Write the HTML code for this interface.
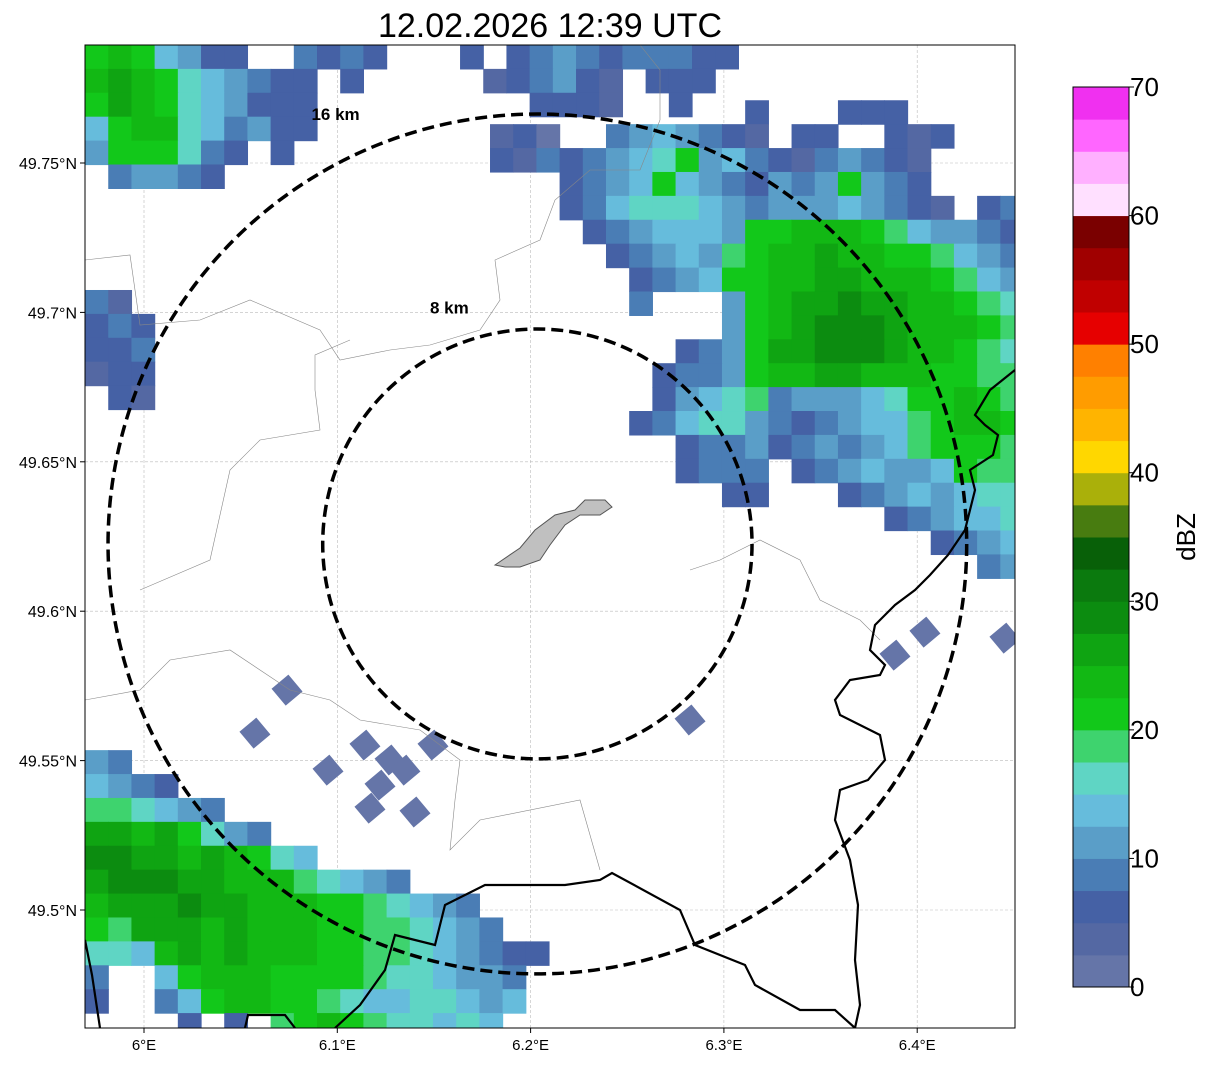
<!DOCTYPE html>
<html><head><meta charset="utf-8"><style>
body{margin:0;background:#fff;}
svg text{font-family:"Liberation Sans",sans-serif;}
</style></head><body>
<svg id="c" width="1207" height="1064" xmlns="http://www.w3.org/2000/svg">
<text x="550" y="37" font-size="34" text-anchor="middle">12.02.2026 12:39 UTC</text>
<defs><clipPath id="pc"><rect x="85" y="45" width="930" height="983"/></clipPath></defs>
<g id="grid"></g>
<g id="radar" clip-path="url(#pc)"></g>
<g id="map" clip-path="url(#pc)"></g>
<rect x="85" y="45" width="930" height="983" fill="none" stroke="#000" stroke-width="1"/>
<g id="axes"></g>
<g id="cbar"></g>
</svg>
<script>
const NS="http://www.w3.org/2000/svg";
const colorLevels=["#6575a8","#5468a3","#4561a5","#4a7db5","#5a9ec8","#66bcdc","#5fd5c4","#3ed36e","#12c81a","#12b814","#0fa412","#0c8c10","#0b7a0e","#086008","#487c10","#aab00a","#ffd700","#ffb400","#ff9c00","#ff8000","#e60000","#c00000","#a00000","#7a0000","#ffe0ff","#ffb0ff","#ff66ff","#f030f0"];
const lonTicks=[6.0,6.1,6.2,6.3,6.4];
const latTicks=[49.5,49.55,49.6,49.65,49.7,49.75];
const cbarTicks=[0,10,20,30,40,50,60,70];
const rangeRings=[8,16];
const radarCenter=[6.2035,49.6225];
// clusters: [lon0, lat0, dlon, dlat, rows] ; chars = level index (dBZ = idx*2.5)
const clusterNE=[6.179,49.771,0.012,0.008,[
"...........2...222.....",
"120..3454321.22..212...",
"2132345684532134321....",
"...2345854324348432....",
"...23566654344454321.23",
"....2345554889998754432",
".....234547899a99887543",
"......23458899aa9998754",
"......3...489aabaa99876",
"..........489abbba99987",
"........2348aabbba99876",
".......2334899aa9998877",
".......2456734445688987",
"......23566432345578998",
"........233423434578887",
"........2333.2345445877",
"..........22...23454566",
".................234556",
"...................2345",
".....................34"]];
const clusterNW=[5.9695,49.7895,0.012,0.008,[
"8985422..3232",
"9a98654322.2.",
"8a98654222...",
"5899653422...",
"4888632.2....",
".34432......."]];
const clusterTop=[6.1635,49.7895,0.012,0.008,[
"2.2343233322",
".123421.222.",
"...2221..2.."]];
const clusterWest=[5.9695,49.7075,0.012,0.008,[
"31.","232","223","122",".21"]];
const clusterSW=[5.9695,49.5535,0.012,0.008,[
"43..................",
"5432................",
"776543..............",
"aa9a8643............",
"bbaa9a9865..........",
"abbbaa99976543......",
"9aaabaa9998876543...",
"87aaa9a99988776543..",
"6659a9a9998877654322",
"3..5899988887665443.",
"2..3589988765566545.",
"....2.2.7898766565.."]];
const cellLon=[6.0574,6.074,6.0952,6.1143,6.1273,6.1221,6.135,6.1169,6.1402,6.1495,6.2825,6.404,6.3885,6.4454];
const cellLat=[49.5592,49.5736,49.5468,49.5552,49.5502,49.5418,49.5468,49.5341,49.5328,49.5552,49.5636,49.593,49.5853,49.591];
const cellDbz=[0,0,0,0,0,0,0,0,0,0,0,0,0,0];

const X0=85,X1=1015,Y0=45,Y1=1028;
const xS=lon=>144+(lon-6.0)*1933;
const yS=lat=>163-(lat-49.75)*2988;
const cS=d=>987-d*(900/70);
function el(t,a,p){const e=document.createElementNS(NS,t);for(const k in a)e.setAttribute(k,a[k]);(p||document.getElementById('c')).appendChild(e);return e;}
const G=id=>document.getElementById(id);
const colorOf=d=>colorLevels[Math.min(27,Math.max(0,Math.floor(d/2.5+1e-6)))];

lonTicks.forEach(v=>{const l=el('line',{x1:xS(v),x2:xS(v),y1:Y0,y2:Y1,stroke:'#bbb','stroke-width':0.6,'stroke-dasharray':'3,2'},G('grid'));
});
latTicks.forEach(v=>{const l=el('line',{x1:X0,x2:X1,y1:yS(v),y2:yS(v),stroke:'#bbb','stroke-width':0.6,'stroke-dasharray':'3,2'},G('grid'));
});

function drawCluster(cl,name){const [lon0,lat0,dl,dt,rows]=cl;
rows.forEach((r,ri)=>{for(let ci=0;ci<r.length;ci++){const ch=r[ci];if(ch==='.'||ch===' ')continue;
const idx=parseInt(ch,16);const dbz=idx*2.5;
const x=xS(lon0+ci*dl),y=yS(lat0-ri*dt),w=xS(lon0+(ci+1)*dl)-x+0.6,h=yS(lat0-(ri+1)*dt)-y+0.6;
const e=el('rect',{x:x,y:y,width:w,height:h,fill:colorOf(dbz)},G('radar'));
}});}
drawCluster(clusterNE,'ne');drawCluster(clusterNW,'nw');drawCluster(clusterTop,'top');drawCluster(clusterWest,'west');drawCluster(clusterSW,'sw');
cellLon.forEach((lo,i)=>{const x=xS(lo),y=yS(cellLat[i]);
const e=el('rect',{x:x-11,y:y-11,width:22,height:22,fill:colorOf(cellDbz[i]),transform:`rotate(-40 ${x} ${y})`},G('radar'));
});

const thin=[[85,260],[130,255],[140,325],[200,320],[250,300],[320,330],[340,360],[390,350],[430,345],[480,330],[500,300],[495,260],[540,240],[555,200],[590,170],[640,170],[660,120],[660,70],[640,45]];
el('polyline',{points:thin.map(p=>p.join(',')).join(' '),fill:'none',stroke:'#888','stroke-width':0.6},G('map'));
const thin2=[[85,700],[140,690],[170,660],[230,650],[290,690],[330,700],[360,720],[420,730],[460,760],[455,800],[450,850],[480,820],[580,800],[600,870]];
el('polyline',{points:thin2.map(p=>p.join(',')).join(' '),fill:'none',stroke:'#888','stroke-width':0.6},G('map'));
const thin3=[[140,590],[210,560],[230,470],[260,440],[320,430],[315,390],[315,355],[350,340]];
el('polyline',{points:thin3.map(p=>p.join(',')).join(' '),fill:'none',stroke:'#888','stroke-width':0.6},G('map'));
const thin4=[[690,570],[720,560],[760,540],[800,560],[820,600],[860,620],[880,640]];
el('polyline',{points:thin4.map(p=>p.join(',')).join(' '),fill:'none',stroke:'#888','stroke-width':0.6},G('map'));
const b1=[[1015,370],[990,390],[975,415],[985,425],[998,435],[993,455],[970,470],[975,490],[965,530],[948,555],[930,575],[915,590],[895,605],[875,625],[870,650],[885,665],[880,675],[850,680],[835,700],[840,715],[880,735],[885,760],[868,780],[840,790],[835,820],[850,860],[858,905],[855,960],[860,1005],[855,1028]];
const b2=[[335,1028],[360,1005],[385,970],[395,935],[435,945],[445,905],[485,885],[565,885],[600,880],[612,873],[680,910],[695,945],[745,965],[755,985],[800,1010],[835,1010],[855,1028]];
const b3=[[85,940],[92,975],[100,1028]];
const b4=[[245,1028],[248,1015],[285,1015],[295,1028]];
[b1,b2,b3,b4].forEach(b=>{const e=el('polyline',{points:b.map(p=>p.join(',')).join(' '),fill:'none',stroke:'#000','stroke-width':2.2},G('map'));
});
const city=[[495,565],[520,548],[535,530],[555,515],[575,510],[585,500],[605,500],[612,507],[600,515],[580,515],[565,525],[550,545],[540,560],[520,567],[505,567]];
el('polygon',{points:city.map(p=>p.join(',')).join(' '),fill:'#c0c0c0',stroke:'#555','stroke-width':1},G('map'));

const kmPerLat=111.2,kmPerLon=111.2*Math.cos(radarCenter[1]*Math.PI/180);
rangeRings.forEach(r=>{const cx=xS(radarCenter[0]),cy=yS(radarCenter[1]);
const rx=xS(radarCenter[0]+r/kmPerLon)-cx, ry=cy-yS(radarCenter[1]+r/kmPerLat);
const e=el('ellipse',{cx:cx,cy:cy,rx:rx,ry:ry,fill:'none',stroke:'#000','stroke-width':3.5,'stroke-dasharray':'12,6'},G('map'));

const fx=r<10?0.41:0.47, fy=r<10?1.1:1.0;
const t=el('text',{x:cx-rx*fx,y:cy-ry*fy+6,'font-size':17,'font-weight':'bold','text-anchor':'middle'},G('map'));t.textContent=r+' km';
});

lonTicks.forEach(v=>{const x=xS(v);el('line',{x1:x,x2:x,y1:Y1,y2:Y1+5,stroke:'#000'},G('axes'));
const t=el('text',{x:x,y:Y1+22,'font-size':15,'text-anchor':'middle'},G('axes'));
t.textContent=(v===6?'6':v.toFixed(1))+'°E';
});
latTicks.forEach(v=>{const y=yS(v);el('line',{x1:X0-5,x2:X0,y1:y,y2:y,stroke:'#000'},G('axes'));
const t=el('text',{x:X0-8,y:y+6,'font-size':16,'text-anchor':'end'},G('axes'));t.textContent=String(+v.toFixed(2))+'°N';
});

colorLevels.forEach((c,i)=>{const d=i*2.5;const e=el('rect',{x:1073,y:cS(d+2.5),width:56,height:cS(d)-cS(d+2.5)+0.5,fill:c},G('cbar'));
});
el('rect',{x:1073,y:cS(70),width:56,height:cS(0)-cS(70),fill:'none',stroke:'#000','stroke-width':1},G('cbar'));
cbarTicks.forEach(v=>{const y=cS(v);el('line',{x1:1129,x2:1134,y1:y,y2:y,stroke:'#000'},G('cbar'));
const t=el('text',{x:1130,y:y+9,'font-size':26},G('cbar'));t.textContent=v;
});
const lab=el('text',{x:1195,y:537,'font-size':26,'text-anchor':'middle',transform:'rotate(-90 1195 537)'},G('cbar'));lab.textContent='dBZ';

</script>
</body></html>
